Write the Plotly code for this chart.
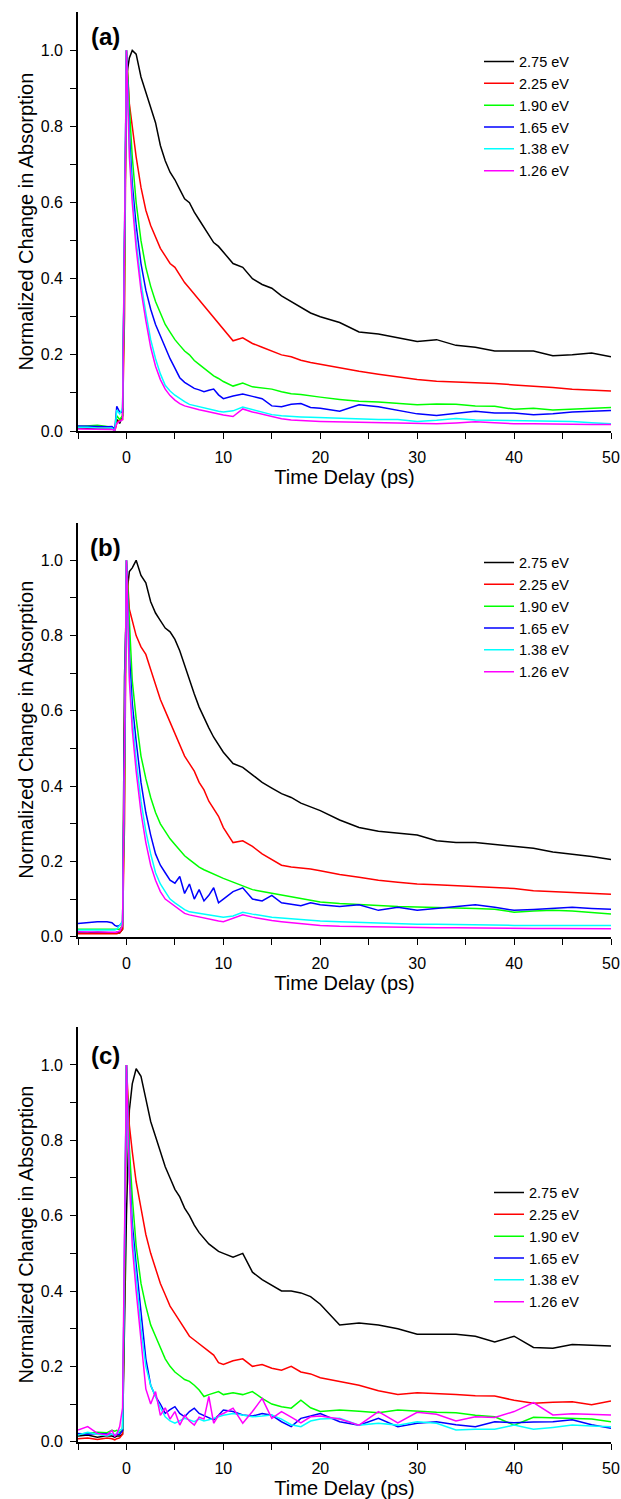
import plotly.graph_objects as go

# ---------------- data ----------------
T = [-5, -4, -3, -2, -1.5, -1.2, -1, -0.7, -0.4, -0.2,
     0, 0.3, 0.6, 1, 1.5, 2, 2.5, 3, 3.5, 4, 4.5, 5, 5.5, 6, 6.5, 7, 7.5, 8, 8.5, 9, 9.5, 10,
     11, 12, 13, 14, 15, 16, 17, 18, 19, 20,
     22, 24, 26, 28, 30, 32, 34, 36, 38, 40, 42, 44, 46, 48, 50]

LABELS = ["2.75 eV", "2.25 eV", "1.90 eV", "1.65 eV", "1.38 eV", "1.26 eV"]
PANELS = ["(a)", "(b)", "(c)"]
X_TICKS = [-5, 0, 5, 10, 15, 20, 25, 30, 35, 40, 45, 50]
X_TICKTEXT = ["", "0", "", "10", "", "20", "", "30", "", "40", "", "50"]
Y_TICKS = [0.0, 0.1, 0.2, 0.3, 0.4, 0.5, 0.6, 0.7, 0.8, 0.9, 1.0]
Y_TICKTEXT = ["0.0", "", "0.2", "", "0.4", "", "0.6", "", "0.8", "", "1.0"]

# panel (a)
a_275 = [0.008, 0.007, 0.008, 0.006, 0.006, 0.004, 0.03, 0.02, 0.04, 0.45,
         0.93, 0.98, 1.0, 0.99, 0.93, 0.89, 0.85, 0.81, 0.75, 0.71, 0.68, 0.66, 0.635, 0.61, 0.6, 0.575, 0.555, 0.535, 0.515, 0.495, 0.485, 0.47,
         0.44, 0.43, 0.40, 0.385, 0.375, 0.355, 0.34, 0.325, 0.31, 0.30,
         0.285, 0.26, 0.255, 0.245, 0.235, 0.24, 0.225, 0.22, 0.21, 0.21, 0.21, 0.198, 0.2, 0.205, 0.195]
a_225 = [0.01, 0.01, 0.009, 0.008, 0.008, 0.0, 0.02, 0.03, 0.03, 0.3,
         1.0, 0.86, 0.8, 0.72, 0.64, 0.58, 0.54, 0.51, 0.48, 0.46, 0.44, 0.43, 0.41, 0.39, 0.375, 0.36, 0.345, 0.33, 0.315, 0.3, 0.285, 0.27,
         0.237, 0.245, 0.23, 0.22, 0.21, 0.2, 0.195, 0.186, 0.18, 0.175,
         0.165, 0.157, 0.149, 0.142, 0.135, 0.131, 0.129, 0.128, 0.125, 0.121, 0.118, 0.114, 0.11, 0.107, 0.105]
a_190 = [0.012, 0.013, 0.015, 0.012, 0.01, 0.005, 0.04, 0.03, 0.04, 0.4,
         1.0, 0.85, 0.72, 0.6, 0.5, 0.43, 0.38, 0.34, 0.31, 0.28, 0.26, 0.24, 0.225, 0.21, 0.2, 0.185, 0.175, 0.165, 0.155, 0.145, 0.138, 0.13,
         0.118, 0.126, 0.116, 0.113, 0.11, 0.103, 0.098, 0.096, 0.092, 0.089,
         0.083, 0.078, 0.076, 0.072, 0.069, 0.071, 0.07, 0.066, 0.065, 0.057, 0.06, 0.055, 0.057, 0.06, 0.062]
a_165 = [0.013, 0.012, 0.012, 0.011, 0.012, 0.005, 0.065, 0.05, 0.05, 0.5,
         1.0, 0.78, 0.65, 0.54, 0.44, 0.37, 0.32, 0.28, 0.25, 0.22, 0.19, 0.165, 0.14, 0.128, 0.12, 0.112, 0.108, 0.103, 0.107, 0.11, 0.095, 0.085,
         0.092, 0.097, 0.091, 0.085, 0.066, 0.064, 0.07, 0.072, 0.062, 0.06,
         0.052, 0.069, 0.064, 0.055, 0.045, 0.041, 0.047, 0.052, 0.047, 0.047, 0.043, 0.045, 0.05, 0.052, 0.054]
a_138 = [0.01, 0.01, 0.008, 0.009, 0.008, 0.0, 0.055, 0.045, 0.06, 0.5,
         1.0, 0.75, 0.62, 0.5, 0.39, 0.31, 0.24, 0.19, 0.15, 0.12, 0.105, 0.094, 0.085, 0.077, 0.07, 0.067, 0.063, 0.059, 0.056, 0.054, 0.052, 0.05,
         0.053, 0.063, 0.057, 0.05, 0.043, 0.04, 0.038, 0.037, 0.036, 0.035,
         0.033, 0.031, 0.03, 0.03, 0.025, 0.028, 0.033, 0.029, 0.028, 0.027, 0.026, 0.026, 0.025, 0.022, 0.019]
a_126 = [0.005, 0.005, 0.005, 0.004, 0.004, 0.002, 0.02, 0.025, 0.03, 0.5,
         1.0, 0.72, 0.6, 0.48, 0.37, 0.29, 0.22, 0.17, 0.135, 0.11, 0.093, 0.081, 0.072, 0.066, 0.062, 0.059, 0.056, 0.053, 0.05, 0.047, 0.044, 0.042,
         0.038, 0.058, 0.05, 0.044, 0.036, 0.032, 0.029, 0.027, 0.026, 0.025,
         0.024, 0.023, 0.022, 0.02, 0.019, 0.019, 0.021, 0.024, 0.022, 0.019, 0.019, 0.018, 0.018, 0.017, 0.017]

# panel (b)
b_275 = [0.01, 0.01, 0.012, 0.01, 0.01, 0.01, 0.012, 0.01, 0.02, 0.69,
         0.9, 0.97, 0.98, 1.0, 0.96, 0.94, 0.89, 0.86, 0.84, 0.82, 0.81, 0.79, 0.76, 0.72, 0.68, 0.645, 0.61, 0.58, 0.555, 0.53, 0.51, 0.49,
         0.46, 0.45, 0.43, 0.41, 0.395, 0.38, 0.37, 0.355, 0.345, 0.335,
         0.31, 0.29, 0.28, 0.275, 0.27, 0.255, 0.25, 0.25, 0.245, 0.24, 0.235, 0.225, 0.22, 0.213, 0.205]
b_225 = [0.008, 0.008, 0.007, 0.008, 0.008, 0.006, 0.008, 0.01, 0.02, 0.3,
         1.0, 0.87, 0.84, 0.8, 0.77, 0.75, 0.71, 0.67, 0.63, 0.6, 0.57, 0.54, 0.51, 0.48, 0.46, 0.44, 0.41, 0.39, 0.36, 0.34, 0.32, 0.29,
         0.25, 0.255, 0.24, 0.22, 0.205, 0.19, 0.185, 0.183, 0.18, 0.175,
         0.165, 0.158, 0.15, 0.145, 0.14, 0.138, 0.135, 0.133, 0.13, 0.128, 0.122, 0.12, 0.118, 0.115, 0.113]
b_190 = [0.02, 0.02, 0.02, 0.021, 0.02, 0.02, 0.022, 0.02, 0.03, 0.4,
         1.0, 0.82, 0.68, 0.58, 0.48, 0.42, 0.37, 0.33, 0.3, 0.28, 0.26, 0.245, 0.23, 0.215, 0.205, 0.195, 0.185, 0.178, 0.172, 0.165, 0.16, 0.155,
         0.145, 0.135, 0.125, 0.12, 0.115, 0.11, 0.105, 0.1, 0.095, 0.092,
         0.088, 0.085, 0.083, 0.08, 0.079, 0.078, 0.077, 0.075, 0.073, 0.065, 0.068, 0.07, 0.068, 0.065, 0.06]
b_165 = [0.035, 0.038, 0.04, 0.04, 0.037, 0.03, 0.028, 0.03, 0.04, 0.5,
         1.0, 0.75, 0.62, 0.52, 0.41, 0.33, 0.27, 0.22, 0.19, 0.17, 0.15, 0.142, 0.16, 0.115, 0.14, 0.1, 0.125, 0.095, 0.11, 0.13, 0.09, 0.1,
         0.12, 0.13, 0.1, 0.095, 0.11, 0.09, 0.087, 0.082, 0.09, 0.085,
         0.08, 0.085, 0.07, 0.078, 0.07, 0.075, 0.08, 0.085, 0.078, 0.07, 0.072, 0.075, 0.078, 0.075, 0.073]
b_138 = [0.018, 0.018, 0.018, 0.019, 0.018, 0.018, 0.02, 0.03, 0.04, 0.5,
         1.0, 0.7, 0.58, 0.47, 0.36, 0.28, 0.22, 0.17, 0.14, 0.12, 0.1, 0.09, 0.08, 0.072, 0.066, 0.064, 0.062, 0.06, 0.058, 0.055, 0.053, 0.052,
         0.055, 0.065, 0.06, 0.055, 0.052, 0.05, 0.048, 0.045, 0.043, 0.042,
         0.04, 0.038, 0.036, 0.035, 0.033, 0.033, 0.032, 0.031, 0.031, 0.03, 0.03, 0.03, 0.03, 0.03, 0.03]
b_126 = [0.013, 0.013, 0.013, 0.012, 0.013, 0.013, 0.012, 0.015, 0.03, 0.5,
         1.0, 0.68, 0.55, 0.44, 0.33, 0.25, 0.19, 0.15, 0.12, 0.1, 0.09, 0.08, 0.07, 0.062, 0.058, 0.055, 0.052, 0.05, 0.047, 0.045, 0.042, 0.04,
         0.048, 0.058, 0.052, 0.047, 0.043, 0.04, 0.037, 0.035, 0.033, 0.03,
         0.028, 0.027, 0.026, 0.025, 0.025, 0.024, 0.024, 0.023, 0.023, 0.022, 0.022, 0.022, 0.022, 0.021, 0.021]

# panel (c)
c_275 = [0.015, 0.018, 0.012, 0.016, 0.015, 0.012, 0.015, 0.015, 0.02, 0.3,
         0.6, 0.88, 0.95, 0.99, 0.97, 0.91, 0.85, 0.81, 0.77, 0.73, 0.7, 0.67, 0.65, 0.62, 0.6, 0.575, 0.555, 0.54, 0.525, 0.515, 0.505, 0.5,
         0.49, 0.5, 0.45, 0.43, 0.415, 0.4, 0.4, 0.395, 0.385, 0.365,
         0.31, 0.315, 0.31, 0.3, 0.285, 0.285, 0.285, 0.28, 0.265, 0.28, 0.25, 0.248, 0.258, 0.256, 0.254]
c_225 = [0.008, 0.01, 0.006, 0.01, 0.008, 0.005, 0.008, 0.01, 0.02, 0.4,
         1.0, 0.84, 0.77, 0.69, 0.62, 0.55, 0.5, 0.46, 0.42, 0.39, 0.36, 0.34, 0.32, 0.3, 0.28, 0.27, 0.26, 0.25, 0.24, 0.23, 0.21, 0.205,
         0.215, 0.22, 0.2, 0.205, 0.195, 0.19, 0.2, 0.185, 0.18, 0.17,
         0.16, 0.15, 0.135, 0.125, 0.13, 0.128, 0.125, 0.122, 0.121, 0.11, 0.102, 0.105, 0.106, 0.098, 0.108]
c_190 = [0.02, 0.022, 0.025, 0.024, 0.03, 0.028, 0.03, 0.025, 0.03, 0.4,
         1.0, 0.78, 0.65, 0.52, 0.42, 0.36, 0.31, 0.28, 0.25, 0.22, 0.2, 0.185, 0.175, 0.165, 0.16, 0.15, 0.137, 0.12, 0.125, 0.13, 0.133, 0.125,
         0.13, 0.125, 0.133, 0.115, 0.1, 0.093, 0.089, 0.11, 0.09, 0.08,
         0.084, 0.081, 0.077, 0.084, 0.08, 0.078, 0.077, 0.07, 0.066, 0.044, 0.065, 0.063, 0.062, 0.06, 0.053]
c_165 = [0.022, 0.02, 0.022, 0.02, 0.02, 0.015, 0.02, 0.02, 0.03, 0.5,
         1.0, 0.72, 0.58, 0.47, 0.34, 0.22, 0.15, 0.12, 0.1, 0.075, 0.085, 0.093, 0.075, 0.066, 0.08, 0.089, 0.075, 0.07, 0.065, 0.058, 0.07, 0.084,
         0.08, 0.071, 0.068, 0.075, 0.07, 0.053, 0.04, 0.062, 0.068, 0.075,
         0.053, 0.044, 0.062, 0.04, 0.049, 0.053, 0.045, 0.04, 0.053, 0.05, 0.052, 0.053, 0.058, 0.045, 0.036]
c_138 = [0.018, 0.025, 0.02, 0.015, 0.02, 0.018, 0.022, 0.03, 0.035, 0.5,
         1.0, 0.7, 0.55, 0.44, 0.3, 0.2, 0.15, 0.12, 0.09, 0.066, 0.055, 0.049, 0.055, 0.062, 0.058, 0.053, 0.06, 0.055, 0.058, 0.062, 0.065, 0.07,
         0.075, 0.07, 0.066, 0.068, 0.071, 0.06, 0.045, 0.04, 0.055, 0.06,
         0.062, 0.044, 0.049, 0.044, 0.053, 0.049, 0.031, 0.033, 0.033, 0.044, 0.033, 0.038, 0.044, 0.042, 0.04]
c_126 = [0.031, 0.04, 0.022, 0.018, 0.03, 0.015, 0.02, 0.04, 0.09, 0.5,
         1.0, 0.7, 0.52, 0.4, 0.26, 0.14, 0.1, 0.133, 0.07, 0.09, 0.06, 0.08, 0.044, 0.07, 0.055, 0.044, 0.065, 0.06, 0.12, 0.049, 0.07, 0.075,
         0.089, 0.049, 0.08, 0.115, 0.062, 0.08, 0.065, 0.05, 0.066, 0.068,
         0.06, 0.044, 0.08, 0.05, 0.078, 0.073, 0.055, 0.066, 0.064, 0.08, 0.104, 0.071, 0.074, 0.072, 0.071]

SERIES = [
    [a_275, a_225, a_190, a_165, a_138, a_126],
    [b_275, b_225, b_190, b_165, b_138, b_126],
    [c_275, c_225, c_190, c_165, c_138, c_126],
]

# ---------------- styling / layout ----------------
COLORS = ["#000000", "#ff0000", "#00ff00", "#0000ff", "#00ffff", "#ff00ff"]
W, H = 621, 1499
FONT = "Liberation Sans, Arial, sans-serif"
X0, X1 = 78.0, 611.0
PANEL_Y = [(12.3, 431.0), (522.7, 936.7), (1027.3, 1441.7)]
LABEL_POS = [(105, 36.5), (105, 547.5), (105, 1055.0)]
LEGEND_POS = [(479, 45.5), (479, 546.5), (489, 1176.5)]

fig = go.Figure()
layout = dict(
    width=W, height=H,
    margin=dict(l=0, r=0, t=0, b=0),
    paper_bgcolor="white", plot_bgcolor="white",
    font=dict(family=FONT, size=16, color="black"),
    annotations=[],
)

axis_common = dict(showgrid=False, zeroline=False, showline=True, linecolor="black",
                   linewidth=1.6, ticks="outside", ticklen=6, tickwidth=1.3,
                   tickcolor="black")

for i in range(3):
    sfx = "" if i == 0 else str(i + 1)
    top, bot = PANEL_Y[i]
    ydom = [1 - bot / H, 1 - top / H]
    xdom = [X0 / W, X1 / W]
    leg = "legend" + sfx
    for k in range(6):
        fig.add_trace(go.Scatter(
            x=T, y=SERIES[i][k], mode="lines", name=LABELS[k],
            line=dict(color=COLORS[k], width=1.5),
            xaxis="x" + sfx, yaxis="y" + sfx, legend=leg,
        ))
    layout["xaxis" + sfx] = dict(
        axis_common, domain=xdom, anchor="y" + sfx, range=[-5, 50],
        tickvals=X_TICKS, ticktext=X_TICKTEXT, tickfont=dict(size=16),
        ticklabelstandoff=5,
        title=dict(text="Time Delay (ps)", font=dict(size=20), standoff=4),
        automargin=False,
    )
    layout["yaxis" + sfx] = dict(
        axis_common, domain=ydom, anchor="x" + sfx, range=[0, 1.1],
        tickvals=Y_TICKS, ticktext=Y_TICKTEXT, tickfont=dict(size=16),
        ticklabelstandoff=4,
        title=dict(text="Normalized Change in Absorption", font=dict(size=20), standoff=2),
        automargin=False,
    )
    # mirrored frame: top axis (ticks inside) and right axis (ticks outside)
    layout["xaxis" + str(i + 4)] = dict(
        axis_common, overlaying="x" + sfx, anchor="y" + sfx, side="top",
        range=[-5, 50], tickvals=X_TICKS, showticklabels=False, ticks="inside",
    )
    layout["yaxis" + str(i + 4)] = dict(
        axis_common, overlaying="y" + sfx, anchor="x" + sfx, side="right",
        range=[0, 1.1], tickvals=Y_TICKS, showticklabels=False,
    )
    lx, ly = LEGEND_POS[i]
    layout[leg] = dict(
        x=lx / W, y=1 - ly / H, xanchor="left", yanchor="top",
        bgcolor="rgba(0,0,0,0)", borderwidth=0, font=dict(size=14.5),
        tracegroupgap=0,
    )
    px, py = LABEL_POS[i]
    layout["annotations"].append(dict(
        text="<b>" + PANELS[i] + "</b>", x=px / W, y=1 - py / H,
        xref="paper", yref="paper", xanchor="center", yanchor="middle",
        showarrow=False, font=dict(size=24, family=FONT),
    ))

fig.update_layout(**layout)
fig.write_html("out.html", config={"displayModeBar": False},
               post_script="document.body.style.margin='0px';")
